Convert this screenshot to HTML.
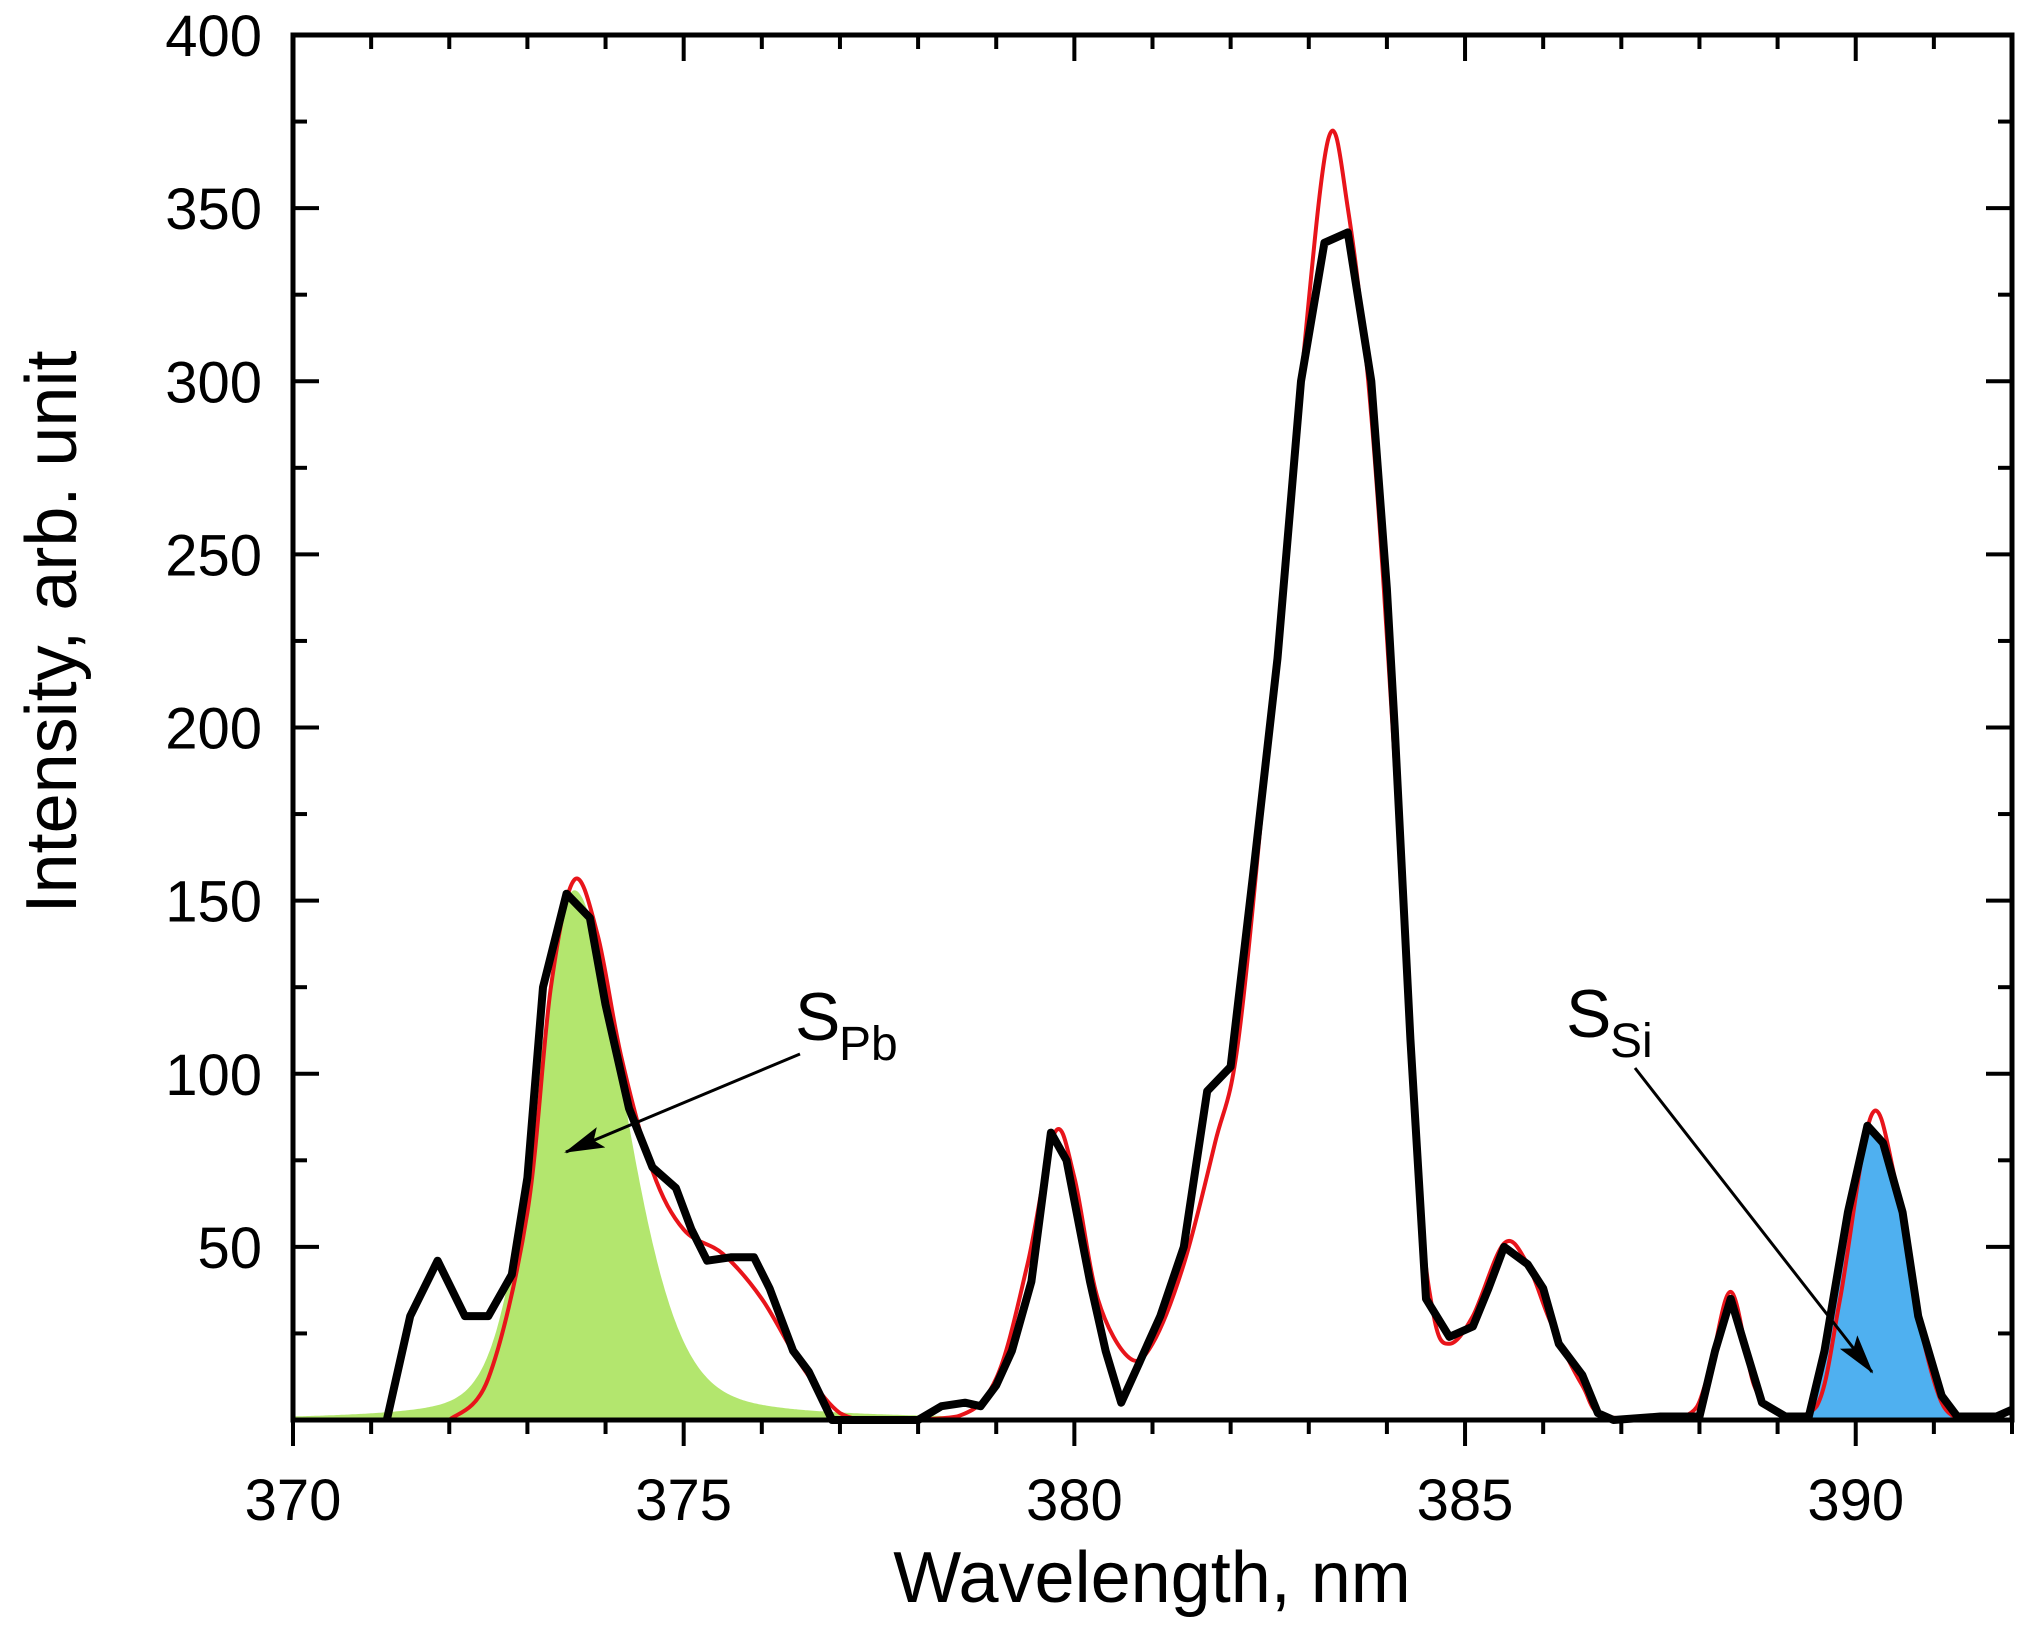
<!DOCTYPE html>
<html><head><meta charset="utf-8"><style>
html,body{margin:0;padding:0;background:#fff;}
svg{display:block;font-family:"Liberation Sans",Arial,sans-serif;}
</style></head><body>
<svg id="s" width="2037" height="1652" viewBox="0 0 2037 1652" xmlns="http://www.w3.org/2000/svg">
<defs><marker id="ah" markerWidth="40" markerHeight="22" refX="38" refY="11" orient="auto" markerUnits="userSpaceOnUse" viewBox="0 0 40 22"><path d="M0,0 L40,11 L0,22 L8,11 z" fill="#000"/></marker></defs>
<g id="fills"></g>
<line x1="293" y1="1420" x2="2012" y2="1420" stroke="#7a8a7a" stroke-width="4"/>
<g id="curves"></g>
<g id="axes"></g>
<text x="795" y="1040" font-size="68">S</text><text x="839" y="1060" font-size="48">Pb</text>
<line x1="800" y1="1054" x2="566" y2="1152" stroke="#000" stroke-width="3" marker-end="url(#ah)"/>
<text x="1566" y="1037" font-size="68">S</text><text x="1610" y="1057" font-size="48">Si</text>
<line x1="1635" y1="1068" x2="1872" y2="1372" stroke="#000" stroke-width="3" marker-end="url(#ah)"/>
<text x="1152" y="1602" font-size="72" text-anchor="middle">Wavelength, nm</text>
<text transform="translate(76,632) rotate(-90)" font-size="72" text-anchor="middle">Intensity, arb. unit</text>
</svg>
<script>
var X0=293,X1=2012,Y0=1420,YT=35;
function X(l){return X0+(l-370)*(X1-X0)/22;}
function Y(i){return Y0-i*(Y0-YT)/400;}
var NS="http://www.w3.org/2000/svg";
function el(p,t,a){var e=document.createElementNS(NS,t);for(var k in a)e.setAttribute(k,a[k]);p.appendChild(e);return e;}
function g(x,c,s){return Math.exp(-(x-c)*(x-c)/(2*s*s));}
function pv(x,c,s,gm,eta){return (1-eta)*g(x,c,s)+eta/(1+((x-c)/gm)*((x-c)/gm));}
function pb(x){return x<373.6?153*pv(x,373.6,0.5,0.6,0.25):153*pv(x,373.6,0.68,0.7,0.35);}
var fills=document.getElementById('fills'),cur=document.getElementById('curves'),ax=document.getElementById('axes');
function area(f,a,b,col){var d="M"+X(a)+","+Y0;for(var x=a;x<=b;x+=0.02)d+=" L"+X(x).toFixed(1)+","+Y(f(x)).toFixed(1);d+=" L"+X(b)+","+Y0+" Z";el(fills,'path',{d:d,fill:col});}
area(pb,370,378.5,'#b3e66e');
var sp=[[389.4,0],[389.4,1],[389.6,20],[389.9,60],[390.15,85],[390.35,80],[390.6,60],[390.8,30],[391.1,7],[391.3,1],[391.3,0]];
el(fills,'path',{d:sp.map(function(q,i){return (i?"L":"M")+X(q[0]).toFixed(1)+","+Y(q[1]).toFixed(1);}).join(" ")+"Z",fill:'#4fb0f0'});
function spline(pts){var P=pts.map(function(q){return [X(q[0]),Y(q[1])];});var d="M"+P[0][0].toFixed(1)+","+P[0][1].toFixed(1);
 for(var i=0;i<P.length-1;i++){var p0=P[Math.max(0,i-1)],p1=P[i],p2=P[i+1],p3=P[Math.min(P.length-1,i+2)];
 var c1=[p1[0]+(p2[0]-p0[0])/6,p1[1]+(p2[1]-p0[1])/6],c2=[p2[0]-(p3[0]-p1[0])/6,p2[1]-(p3[1]-p1[1])/6];
 d+=" C"+c1[0].toFixed(1)+","+Math.min(Y0,c1[1]).toFixed(1)+" "+c2[0].toFixed(1)+","+Math.min(Y0,c2[1]).toFixed(1)+" "+p2[0].toFixed(1)+","+p2[1].toFixed(1);}
 return d;}
var rp=[[372.0,0],[372.5,12],[373.0,60],[373.3,125],[373.6,156],[373.9,140],[374.2,105],[374.6,72],[375.0,55],[375.5,48],[376.0,35],[376.5,16],[377.0,2],[377.5,0],[378.5,1],[379.0,12],[379.4,45],[379.75,83],[380.0,70],[380.3,35],[380.7,18],[381.0,22],[381.4,45],[381.8,80],[382.1,110],[382.5,200],[382.9,300],[383.25,370],[383.5,350],[383.8,290],[384.1,190],[384.4,70],[384.6,30],[384.8,22],[385.1,30],[385.5,51],[385.8,45],[386.1,28],[386.5,10],[386.8,1],[387.8,1],[388.1,12],[388.4,37],[388.7,10],[389.0,2],[389.5,4],[389.8,35],[390.2,88],[390.5,70],[390.8,30],[391.1,5],[391.4,0]];
el(cur,'path',{d:spline(rp),fill:'none',stroke:'#e8141a','stroke-width':4});
var pts=[[371.2,0],[371.5,30],[371.85,46],[372.2,30],[372.5,30],[372.8,42],[373.0,70],[373.2,125],[373.5,152],[373.8,145],[374.0,120],[374.3,90],[374.6,73],[374.9,67],[375.1,55],[375.3,46],[375.6,47],[375.9,47],[376.1,38],[376.4,20],[376.6,14],[376.9,0],[378.0,0],[378.3,4],[378.6,5],[378.8,4],[379.0,10],[379.2,20],[379.45,40],[379.7,83],[379.9,75],[380.2,40],[380.4,20],[380.6,5],[380.8,15],[381.1,30],[381.4,50],[381.7,95],[382.0,102],[382.3,160],[382.6,220],[382.9,300],[383.2,340],[383.5,343],[383.8,300],[384.0,240],[384.1,200],[384.3,110],[384.5,35],[384.8,24],[385.1,27],[385.3,38],[385.5,50],[385.8,45],[386.0,38],[386.2,22],[386.5,13],[386.7,2],[386.9,0],[387.5,1],[388.0,1],[388.2,20],[388.4,35],[388.6,20],[388.8,5],[389.1,1],[389.4,1],[389.6,20],[389.9,60],[390.15,85],[390.35,80],[390.6,60],[390.8,30],[391.1,7],[391.3,1],[391.8,1],[392,3]];
var p="";pts.forEach(function(q,i){p+=(i?" L":"M")+X(q[0]).toFixed(1)+","+Y(q[1]).toFixed(1);});
el(cur,'path',{d:p,fill:'none',stroke:'#000','stroke-width':8,'stroke-linejoin':'round'});
el(ax,'rect',{x:X0,y:YT,width:X1-X0,height:Y0-YT,fill:'none',stroke:'#000','stroke-width':5});
for(var l=370;l<=392;l++){var maj=(l%5==0),len=maj?26:14;
 el(ax,'line',{x1:X(l),y1:Y0,x2:X(l),y2:Y0+len,stroke:'#000','stroke-width':4});
 el(ax,'line',{x1:X(l),y1:YT,x2:X(l),y2:YT+len,stroke:'#000','stroke-width':4});
 if(maj){var t=el(ax,'text',{x:X(l),y:1520,'font-size':58,'text-anchor':'middle'});t.textContent=l;}}
for(var i=0;i<=400;i+=25){var maj=(i%50==0),len=maj?26:14;
 el(ax,'line',{x1:X0,y1:Y(i),x2:X0+len,y2:Y(i),stroke:'#000','stroke-width':4});
 el(ax,'line',{x1:X1,y1:Y(i),x2:X1-len,y2:Y(i),stroke:'#000','stroke-width':4});
 if(maj&&i>0){var t=el(ax,'text',{x:262,y:Y(i)+21,'font-size':58,'text-anchor':'end'});t.textContent=i;}}
</script>
</body></html>
